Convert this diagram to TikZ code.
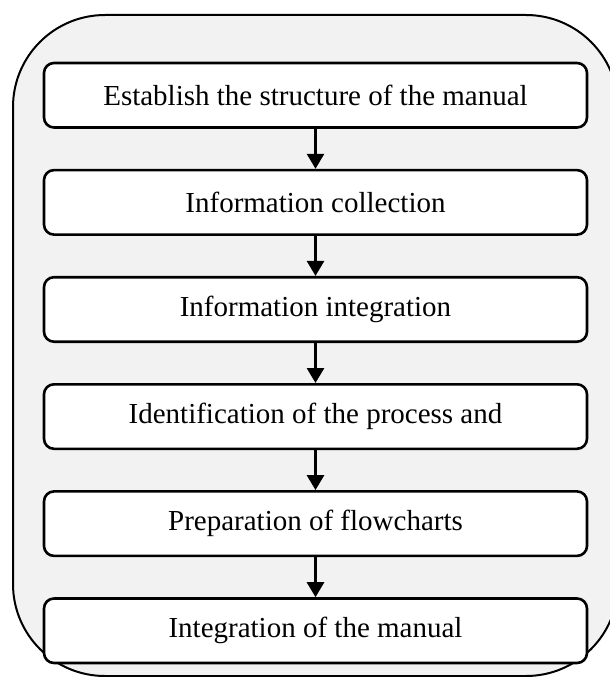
\documentclass[tikz,border=0pt]{standalone}
\usepackage{fontspec}
\setmainfont{Liberation Serif}
\usetikzlibrary{positioning, arrows.meta}

\tikzset{
    stepbox/.style={draw, line width=2.6pt, rounded corners=10pt, fill=white,
        minimum width=543pt, minimum height=64.5pt, inner sep=0pt,
        font=\fontsize{29}{33}\selectfont},
    flow/.style={line width=2.8pt, -{Triangle[width=17pt,length=15pt]}}
}

\begin{document}
\begin{tikzpicture}[x=1pt, y=-1pt]
    \useasboundingbox (0,0) rectangle (610,677);
    % outer frame
    \draw[line width=2pt, fill=gray!10, rounded corners=92pt] (13,15) rectangle (618,676);

    \node[stepbox] (s1) at (315.5,95.25) {Establish the structure of the manual};
    \node[stepbox, below=40pt of s1] (s2) {Information collection};
    \node[stepbox, below=40pt of s2] (s3) {Information integration};
    \node[stepbox, below=40pt of s3] (s4) {Identification of the process and};
    \node[stepbox, below=40pt of s4] (s5) {Preparation of flowcharts};
    \node[stepbox, below=40pt of s5] (s6) {Integration of the manual};

    \draw[flow] (s1) -- (s2);
    \draw[flow] (s2) -- (s3);
    \draw[flow] (s3) -- (s4);
    \draw[flow] (s4) -- (s5);
    \draw[flow] (s5) -- (s6);
\end{tikzpicture}
\end{document}
